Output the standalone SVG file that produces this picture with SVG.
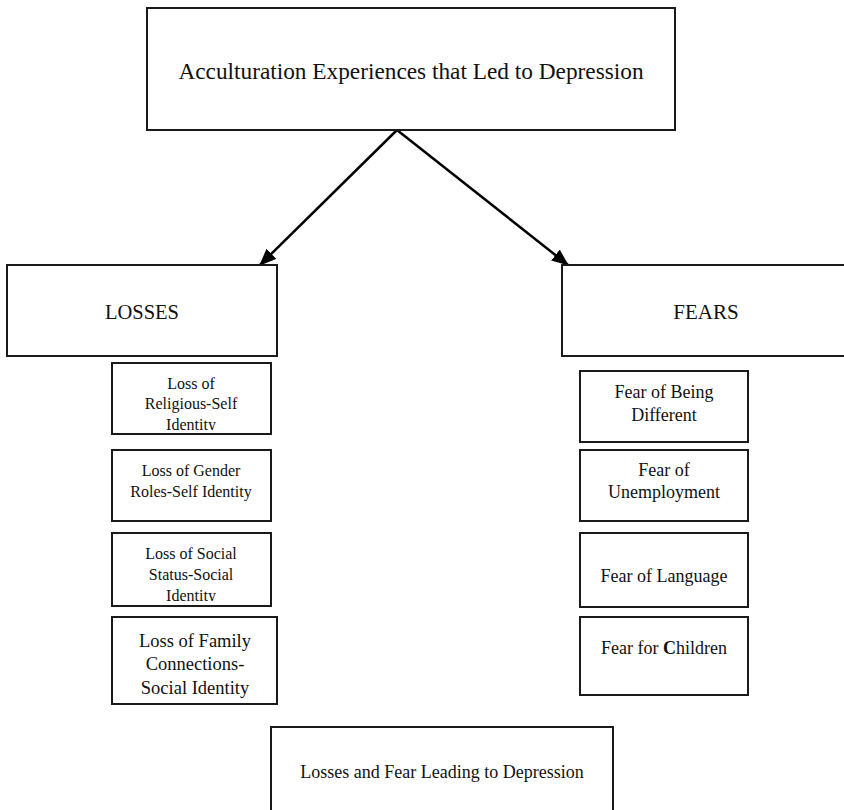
<svg xmlns="http://www.w3.org/2000/svg" width="844" height="810" viewBox="0 0 844 810">
<style>
.box{fill:#fff;stroke:#1a1a1a;stroke-width:2}
text{font-family:'Liberation Serif','Times New Roman','DejaVu Serif',serif;fill:#111;text-anchor:middle}
.conn{stroke:#000;stroke-width:2.5;fill:none}
</style>
<defs>
<marker id="ah" markerWidth="18" markerHeight="14" refX="16" refY="7" orient="auto" markerUnits="userSpaceOnUse">
<path d="M0,0 L17,7 L0,14 Z" fill="#000"/>
</marker>
<clipPath id="c1"><rect x="112" y="363" width="159" height="67"/></clipPath>
<clipPath id="c3"><rect x="112" y="533" width="159" height="68"/></clipPath>
</defs>
<rect width="844" height="810" fill="#fff"/>
<g id="connectors">
<line class="conn" x1="397" y1="130" x2="260" y2="265" marker-end="url(#ah)"/>
<line class="conn" x1="397" y1="130" x2="568" y2="265" marker-end="url(#ah)"/>
</g>
<g id="top">
<rect class="box" x="147" y="8" width="528" height="122"/>
<text x="411" y="79" font-size="23.3">Acculturation Experiences that Led to Depression</text>
</g>
<g id="losses">
<rect class="box" x="7" y="265" width="270" height="91"/>
<text x="142" y="319" font-size="20.5">LOSSES</text>
</g>
<g id="fears">
<rect class="box" x="562" y="265" width="290" height="91"/>
<text x="706" y="319" font-size="21">FEARS</text>
</g>
<g id="loss1">
<rect class="box" x="112" y="363" width="159" height="71"/>
<g clip-path="url(#c1)">
<text x="191" y="389" font-size="16">Loss of</text>
<text x="191" y="409" font-size="16">Religious-Self</text>
<text x="191" y="430" font-size="16">Identity</text>
</g>
</g>
<g id="loss2">
<rect class="box" x="112" y="450" width="159" height="71"/>
<text x="191" y="476" font-size="16">Loss of Gender</text>
<text x="191" y="497" font-size="16">Roles-Self Identity</text>
</g>
<g id="loss3">
<rect class="box" x="112" y="533" width="159" height="73"/>
<g clip-path="url(#c3)">
<text x="191" y="559" font-size="16">Loss of Social</text>
<text x="191" y="580" font-size="16">Status-Social</text>
<text x="191" y="601" font-size="16">Identity</text>
</g>
</g>
<g id="loss4">
<rect class="box" x="112" y="617" width="165" height="87"/>
<text x="195" y="647" font-size="18.5">Loss of Family</text>
<text x="195" y="670" font-size="18.5">Connections-</text>
<text x="195" y="694" font-size="18.5">Social Identity</text>
</g>
<g id="fear1">
<rect class="box" x="580" y="371" width="168" height="71"/>
<text x="664" y="398" font-size="18">Fear of Being</text>
<text x="664" y="421" font-size="18">Different</text>
</g>
<g id="fear2">
<rect class="box" x="580" y="450" width="168" height="71"/>
<text x="664" y="476" font-size="18">Fear of</text>
<text x="664" y="498" font-size="18">Unemployment</text>
</g>
<g id="fear3">
<rect class="box" x="580" y="533" width="168" height="74"/>
<text x="664" y="582" font-size="18">Fear of Language</text>
</g>
<g id="fear4">
<rect class="box" x="580" y="617" width="168" height="78"/>
<text x="664" y="654" font-size="18">Fear for <tspan font-weight="bold">C</tspan>hildren</text>
</g>
<g id="bottom">
<rect class="box" x="271" y="727" width="342" height="100"/>
<text x="442" y="778" font-size="18">Losses and Fear Leading to Depression</text>
</g>
</svg>
